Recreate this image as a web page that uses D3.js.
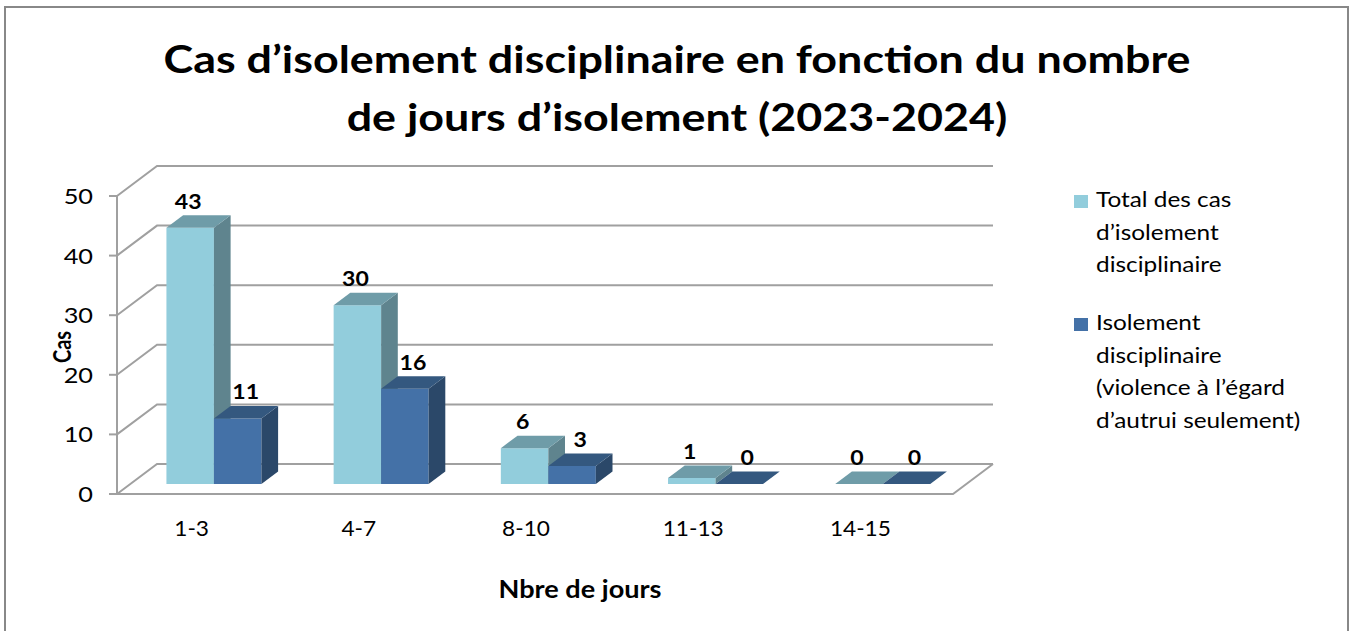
<!DOCTYPE html>
<html>
<head>
<meta charset="utf-8">
<script src="https://cdn.jsdelivr.net/npm/d3@7"></script>
<style>
body{margin:0;background:#fff}
</style>
</head>
<body>
<div id="chart"></div>
<script>
var categories=["1-3","4-7","8-10","11-13","14-15"]
var series=["total","violence"]
var totalCas=[43,30,6,1,0]
var violenceCas=[11,16,3,0,0]
var yTicks=[0,10,20,30,40,50]
var titleLines=["Cas d\u2019isolement disciplinaire en fonction du nombre","de jours d\u2019isolement (2023-2024)"]
var legendLines=[["Total des cas","d\u2019isolement","disciplinaire"],["Isolement","disciplinaire","(violence \u00e0 l\u2019\u00e9gard","d\u2019autrui seulement)"]]

var width=1351,height=631
var font="Lato, 'Open Sans', sans-serif"
var svg=d3.select("#chart").append("svg")
	.attr("width",width)
	.attr("height",height)

// the source picture is a bit stretched sideways, text too
function place(sel,x,y,sx){
	return sel.attr("transform","translate("+x+","+y+") scale("+sx+",1)")
}

// outer frame
svg.append("rect")
	.attr("x",5).attr("y",7)
	.attr("width",1343).attr("height",640)
	.attr("fill","none").attr("stroke","#888").attr("stroke-width",2)

// 3d depth offsets
var DX=40,DY=30
var x0=d3.scaleBand().domain(categories).range([117,953])
var x1=d3.scaleBand().domain(series).range([0,x0.bandwidth()]).paddingOuter(0.76)
var y=d3.scaleLinear().domain([0,50]).range([494,196])
function proj(x,v,d){return [x+d*DX,y(v)-d*DY]}

var colors={
	total:{front:"#92cddc",top:"#6f9ca8",side:"#5f848e"},
	violence:{front:"#4471a7",top:"#34587f",side:"#2b4869"}
}
var grid="#a0a0a0"

// back wall gridlines + side diagonals
var g=svg.append("g")
yTicks.forEach(function(t){
	var a=proj(117,t,0),b=proj(117,t,1),c=proj(953,t,1)
	g.append("path")
		.attr("d","M"+a+"L"+b+"L"+c)
		.attr("fill","none").attr("stroke",grid).attr("stroke-width",2)
})
// floor
var f1=proj(117,0,0),f2=proj(953,0,0),f3=proj(953,0,1)
g.append("path").attr("d","M"+f1+"L"+f2+"L"+f3)
	.attr("fill","none").attr("stroke",grid).attr("stroke-width",2)
// front value axis
g.append("line").attr("x1",117).attr("x2",117).attr("y1",y(0)).attr("y2",y(50))
	.attr("stroke",grid).attr("stroke-width",2)
g.selectAll(".tk").data(yTicks).enter().append("line")
	.attr("x1",109).attr("x2",117)
	.attr("y1",function(d){return y(d)}).attr("y2",function(d){return y(d)})
	.attr("stroke",grid).attr("stroke-width",2)
yTicks.forEach(function(t){
	place(g.append("text"),93,y(t)+8,1.15)
		.attr("text-anchor","end")
		.attr("font-family",font).attr("font-size","22px")
		.text(t)
})

// bars
var d0=1/3,d1=0.75
var rows=[]
categories.forEach(function(c,i){
	rows.push({cat:c,s:"total",v:totalCas[i]})
	rows.push({cat:c,s:"violence",v:violenceCas[i]})
})
var bars=svg.append("g")
rows.forEach(function(r){
	var xl=x0(r.cat)+x1(r.s),xr=xl+x1.bandwidth()
	var col=colors[r.s]
	var fr=[proj(xl,0,d0),proj(xr,0,d0),proj(xr,r.v,d0),proj(xl,r.v,d0)]
	var tp=[proj(xl,r.v,d0),proj(xr,r.v,d0),proj(xr,r.v,d1),proj(xl,r.v,d1)]
	var sd=[proj(xr,0,d0),proj(xr,r.v,d0),proj(xr,r.v,d1),proj(xr,0,d1)]
	bars.append("polygon").attr("points",fr.join(" ")).attr("fill",col.front)
	bars.append("polygon").attr("points",sd.join(" ")).attr("fill",col.side)
	bars.append("polygon").attr("points",tp.join(" ")).attr("fill",col.top)
	var p=proj((xl+xr)/2,r.v,d0)
	place(bars.append("text"),p[0]+(r.s=="total"?-2:8),p[1]-19,1.1)
		.attr("text-anchor","middle")
		.attr("font-family",font).attr("font-size","21px").attr("font-weight","bold")
		.text(r.v)
})

// category labels
categories.forEach(function(c){
	place(svg.append("text"),x0(c)+x0.bandwidth()/2-9,536,1.08)
		.attr("text-anchor","middle")
		.attr("font-family",font).attr("font-size","21px")
		.text(c)
})

// axis titles
svg.append("text")
	.attr("transform","translate(71,347) scale(1.2,1) rotate(-90)")
	.attr("text-anchor","middle")
	.attr("font-family",font).attr("font-size","20px").attr("font-weight","bold")
	.text("Cas")
place(svg.append("text"),580,598,1.13)
	.attr("text-anchor","middle")
	.attr("font-family",font).attr("font-size","24px").attr("font-weight","bold")
	.text("Nbre de jours")

// title
titleLines.forEach(function(t,i){
	place(svg.append("text"),677,73+i*58,1.15)
		.attr("text-anchor","middle")
		.attr("font-family",font).attr("font-size","39px").attr("font-weight","bold")
		.text(t)
})

// legend
var leg=svg.append("g")
var legY=[207,330]
legendLines.forEach(function(lines,k){
	leg.append("rect")
		.attr("x",1074).attr("y",legY[k]-12)
		.attr("width",14).attr("height",13)
		.attr("fill",colors[series[k]].front)
	lines.forEach(function(t,j){
		place(leg.append("text"),1096,legY[k]+j*32.5,1.16)
			.attr("font-family",font).attr("font-size","21px")
			.text(t)
	})
})
</script>
</body>
</html>
